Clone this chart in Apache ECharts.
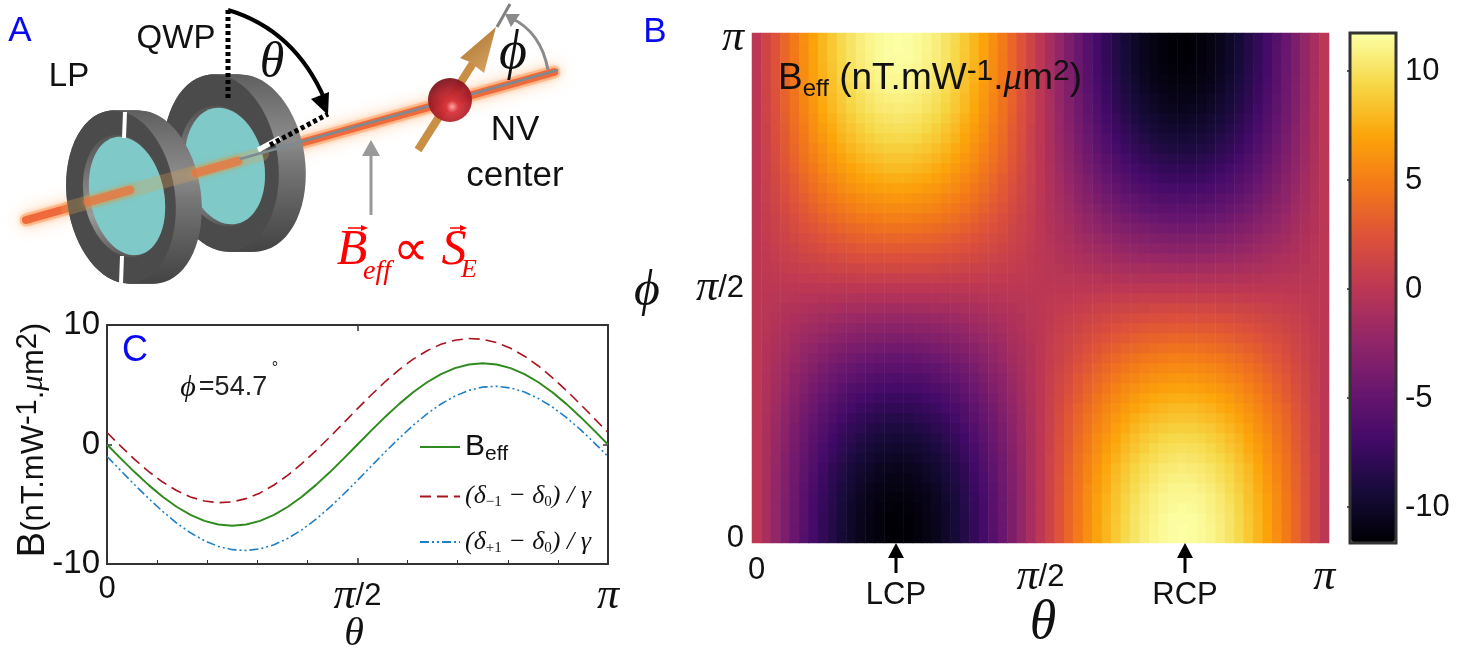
<!DOCTYPE html>
<html><head><meta charset="utf-8">
<style>html,body{margin:0;padding:0;background:#fff}#c{width:1459px;height:653px}</style>
<script src="https://cdn.jsdelivr.net/npm/echarts@6/dist/echarts.min.js"></script>
</head><body><div id="c"></div>
<script>
// ---------- Panel C data (theta in degrees)
const thetaDeg=[0,5,10,15,20,25,30,35,40,45,50,55,60,65,70,75,80,85,90,95,100,105,110,115,120,125,130,135,140,145,150,155,160,165,170,175,180];
const bEff=[0,-1.18,-2.33,-3.4,-4.37,-5.21,-5.89,-6.39,-6.7,-6.8,-6.7,-6.39,-5.89,-5.21,-4.37,-3.4,-2.33,-1.18,0,1.18,2.33,3.4,4.37,5.21,5.89,6.39,6.7,6.8,6.7,6.39,5.89,5.21,4.37,3.4,2.33,1.18,0];
const deltaMinus=[1,-0.16,-1.27,-2.27,-3.14,-3.85,-4.39,-4.73,-4.87,-4.8,-4.53,-4.05,-3.39,-2.57,-1.6,-0.53,0.61,1.8,3,4.16,5.27,6.27,7.14,7.85,8.39,8.73,8.87,8.8,8.53,8.05,7.39,6.57,5.6,4.53,3.39,2.2,1];
const deltaPlus=[-1,-2.2,-3.39,-4.53,-5.6,-6.57,-7.39,-8.05,-8.53,-8.8,-8.87,-8.73,-8.39,-7.85,-7.14,-6.27,-5.27,-4.16,-3,-1.8,-0.61,0.53,1.6,2.57,3.39,4.05,4.53,4.8,4.87,4.73,4.39,3.85,3.14,2.27,1.27,0.16,-1];
// ---------- Panel B data: rows from phi=0 (bottom) to phi=pi (top), columns theta 0..pi
const thetaCells=[0,3,6,9,12,15,18,21,24,27,30,33,36,39,42,45,48,51,54,57,60,63,66,69,72,75,78,81,84,87,90,93,96,99,102,105,108,111,114,117,120,123,126,129,132,135,138,141,144,147,150,153,156,159,162,165,168,171,174,177,180];
const phiCells=[0,3.6,7.2,10.8,14.4,18,21.6,25.2,28.8,32.4,36,39.6,43.2,46.8,50.4,54,57.6,61.2,64.8,68.4,72,75.6,79.2,82.8,86.4,90,93.6,97.2,100.8,104.4,108,111.6,115.2,118.8,122.4,126,129.6,133.2,136.8,140.4,144,147.6,151.2,154.8,158.4,162,165.6,169.2,172.8,176.4,180];
const beffRows=[
[0,-1.2,-2.4,-3.6,-4.8,-5.9,-6.9,-7.8,-8.7,-9.5,-10.1,-10.7,-11.1,-11.4,-11.6,-11.7,-11.6,-11.4,-11.1,-10.7,-10.1,-9.5,-8.7,-7.8,-6.9,-5.9,-4.8,-3.6,-2.4,-1.2,0,1.2,2.4,3.6,4.8,5.9,6.9,7.8,8.7,9.5,10.1,10.7,11.1,11.4,11.6,11.7,11.6,11.4,11.1,10.7,10.1,9.5,8.7,7.8,6.9,5.9,4.8,3.6,2.4,1.2,0],
[0,-1.2,-2.4,-3.6,-4.8,-5.8,-6.9,-7.8,-8.7,-9.4,-10.1,-10.7,-11.1,-11.4,-11.6,-11.7,-11.6,-11.4,-11.1,-10.7,-10.1,-9.4,-8.7,-7.8,-6.9,-5.8,-4.8,-3.6,-2.4,-1.2,0,1.2,2.4,3.6,4.8,5.8,6.9,7.8,8.7,9.4,10.1,10.7,11.1,11.4,11.6,11.7,11.6,11.4,11.1,10.7,10.1,9.4,8.7,7.8,6.9,5.8,4.8,3.6,2.4,1.2,0],
[0,-1.2,-2.4,-3.6,-4.7,-5.8,-6.8,-7.8,-8.6,-9.4,-10.1,-10.6,-11,-11.4,-11.6,-11.6,-11.6,-11.4,-11,-10.6,-10.1,-9.4,-8.6,-7.8,-6.8,-5.8,-4.7,-3.6,-2.4,-1.2,0,1.2,2.4,3.6,4.7,5.8,6.8,7.8,8.6,9.4,10.1,10.6,11,11.4,11.6,11.6,11.6,11.4,11,10.6,10.1,9.4,8.6,7.8,6.8,5.8,4.7,3.6,2.4,1.2,0],
[0,-1.2,-2.4,-3.6,-4.7,-5.7,-6.8,-7.7,-8.5,-9.3,-10,-10.5,-10.9,-11.2,-11.4,-11.5,-11.4,-11.2,-10.9,-10.5,-10,-9.3,-8.5,-7.7,-6.8,-5.7,-4.7,-3.6,-2.4,-1.2,0,1.2,2.4,3.6,4.7,5.7,6.8,7.7,8.5,9.3,10,10.5,10.9,11.2,11.4,11.5,11.4,11.2,10.9,10.5,10,9.3,8.5,7.7,6.8,5.7,4.7,3.6,2.4,1.2,0],
[0,-1.2,-2.4,-3.5,-4.6,-5.7,-6.7,-7.6,-8.4,-9.2,-9.8,-10.4,-10.8,-11.1,-11.3,-11.3,-11.3,-11.1,-10.8,-10.4,-9.8,-9.2,-8.4,-7.6,-6.7,-5.7,-4.6,-3.5,-2.4,-1.2,0,1.2,2.4,3.5,4.6,5.7,6.7,7.6,8.4,9.2,9.8,10.4,10.8,11.1,11.3,11.3,11.3,11.1,10.8,10.4,9.8,9.2,8.4,7.6,6.7,5.7,4.6,3.5,2.4,1.2,0],
[0,-1.2,-2.3,-3.4,-4.5,-5.6,-6.5,-7.4,-8.3,-9,-9.6,-10.2,-10.6,-10.9,-11.1,-11.1,-11.1,-10.9,-10.6,-10.2,-9.6,-9,-8.3,-7.4,-6.5,-5.6,-4.5,-3.4,-2.3,-1.2,0,1.2,2.3,3.4,4.5,5.6,6.5,7.4,8.3,9,9.6,10.2,10.6,10.9,11.1,11.1,11.1,10.9,10.6,10.2,9.6,9,8.3,7.4,6.5,5.6,4.5,3.4,2.3,1.2,0],
[0,-1.1,-2.3,-3.4,-4.4,-5.4,-6.4,-7.3,-8.1,-8.8,-9.4,-9.9,-10.3,-10.6,-10.8,-10.9,-10.8,-10.6,-10.3,-9.9,-9.4,-8.8,-8.1,-7.3,-6.4,-5.4,-4.4,-3.4,-2.3,-1.1,0,1.1,2.3,3.4,4.4,5.4,6.4,7.3,8.1,8.8,9.4,9.9,10.3,10.6,10.8,10.9,10.8,10.6,10.3,9.9,9.4,8.8,8.1,7.3,6.4,5.4,4.4,3.4,2.3,1.1,0],
[0,-1.1,-2.2,-3.3,-4.3,-5.3,-6.2,-7.1,-7.9,-8.6,-9.2,-9.7,-10.1,-10.4,-10.5,-10.6,-10.5,-10.4,-10.1,-9.7,-9.2,-8.6,-7.9,-7.1,-6.2,-5.3,-4.3,-3.3,-2.2,-1.1,0,1.1,2.2,3.3,4.3,5.3,6.2,7.1,7.9,8.6,9.2,9.7,10.1,10.4,10.5,10.6,10.5,10.4,10.1,9.7,9.2,8.6,7.9,7.1,6.2,5.3,4.3,3.3,2.2,1.1,0],
[0,-1.1,-2.1,-3.2,-4.2,-5.1,-6,-6.9,-7.6,-8.3,-8.9,-9.4,-9.7,-10,-10.2,-10.3,-10.2,-10,-9.7,-9.4,-8.9,-8.3,-7.6,-6.9,-6,-5.1,-4.2,-3.2,-2.1,-1.1,0,1.1,2.1,3.2,4.2,5.1,6,6.9,7.6,8.3,8.9,9.4,9.7,10,10.2,10.3,10.2,10,9.7,9.4,8.9,8.3,7.6,6.9,6,5.1,4.2,3.2,2.1,1.1,0],
[0,-1,-2.1,-3,-4,-4.9,-5.8,-6.6,-7.3,-8,-8.5,-9,-9.4,-9.7,-9.8,-9.9,-9.8,-9.7,-9.4,-9,-8.5,-8,-7.3,-6.6,-5.8,-4.9,-4,-3,-2.1,-1,0,1,2.1,3,4,4.9,5.8,6.6,7.3,8,8.5,9,9.4,9.7,9.8,9.9,9.8,9.7,9.4,9,8.5,8,7.3,6.6,5.8,4.9,4,3,2.1,1,0],
[0,-1,-2,-2.9,-3.9,-4.7,-5.6,-6.3,-7,-7.7,-8.2,-8.7,-9,-9.3,-9.4,-9.5,-9.4,-9.3,-9,-8.7,-8.2,-7.7,-7,-6.3,-5.6,-4.7,-3.9,-2.9,-2,-1,0,1,2,2.9,3.9,4.7,5.6,6.3,7,7.7,8.2,8.7,9,9.3,9.4,9.5,9.4,9.3,9,8.7,8.2,7.7,7,6.3,5.6,4.7,3.9,2.9,2,1,0],
[0,-.9,-1.9,-2.8,-3.7,-4.5,-5.3,-6,-6.7,-7.3,-7.8,-8.2,-8.6,-8.8,-9,-9,-9,-8.8,-8.6,-8.2,-7.8,-7.3,-6.7,-6,-5.3,-4.5,-3.7,-2.8,-1.9,-.9,0,.9,1.9,2.8,3.7,4.5,5.3,6,6.7,7.3,7.8,8.2,8.6,8.8,9,9,9,8.8,8.6,8.2,7.8,7.3,6.7,6,5.3,4.5,3.7,2.8,1.9,.9,0],
[0,-.9,-1.8,-2.6,-3.5,-4.3,-5,-5.7,-6.3,-6.9,-7.4,-7.8,-8.1,-8.3,-8.5,-8.5,-8.5,-8.3,-8.1,-7.8,-7.4,-6.9,-6.3,-5.7,-5,-4.3,-3.5,-2.6,-1.8,-.9,0,.9,1.8,2.6,3.5,4.3,5,5.7,6.3,6.9,7.4,7.8,8.1,8.3,8.5,8.5,8.5,8.3,8.1,7.8,7.4,6.9,6.3,5.7,5,4.3,3.5,2.6,1.8,.9,0],
[0,-.8,-1.7,-2.5,-3.3,-4,-4.7,-5.4,-6,-6.5,-6.9,-7.3,-7.6,-7.8,-8,-8,-8,-7.8,-7.6,-7.3,-6.9,-6.5,-6,-5.4,-4.7,-4,-3.3,-2.5,-1.7,-.8,0,.8,1.7,2.5,3.3,4,4.7,5.4,6,6.5,6.9,7.3,7.6,7.8,8,8,8,7.8,7.6,7.3,6.9,6.5,6,5.4,4.7,4,3.3,2.5,1.7,.8,0],
[0,-.8,-1.5,-2.3,-3,-3.7,-4.4,-5,-5.5,-6,-6.5,-6.8,-7.1,-7.3,-7.4,-7.5,-7.4,-7.3,-7.1,-6.8,-6.5,-6,-5.5,-5,-4.4,-3.7,-3,-2.3,-1.5,-.8,0,.8,1.5,2.3,3,3.7,4.4,5,5.5,6,6.5,6.8,7.1,7.3,7.4,7.5,7.4,7.3,7.1,6.8,6.5,6,5.5,5,4.4,3.7,3,2.3,1.5,.8,0],
[0,-.7,-1.4,-2.1,-2.8,-3.4,-4,-4.6,-5.1,-5.6,-6,-6.3,-6.5,-6.7,-6.8,-6.9,-6.8,-6.7,-6.5,-6.3,-6,-5.6,-5.1,-4.6,-4,-3.4,-2.8,-2.1,-1.4,-.7,0,.7,1.4,2.1,2.8,3.4,4,4.6,5.1,5.6,6,6.3,6.5,6.7,6.8,6.9,6.8,6.7,6.5,6.3,6,5.6,5.1,4.6,4,3.4,2.8,2.1,1.4,.7,0],
[0,-.7,-1.3,-1.9,-2.6,-3.1,-3.7,-4.2,-4.7,-5.1,-5.4,-5.7,-6,-6.1,-6.2,-6.3,-6.2,-6.1,-6,-5.7,-5.4,-5.1,-4.7,-4.2,-3.7,-3.1,-2.6,-1.9,-1.3,-.7,0,.7,1.3,1.9,2.6,3.1,3.7,4.2,4.7,5.1,5.4,5.7,6,6.1,6.2,6.3,6.2,6.1,6,5.7,5.4,5.1,4.7,4.2,3.7,3.1,2.6,1.9,1.3,.7,0],
[0,-.6,-1.2,-1.7,-2.3,-2.8,-3.3,-3.8,-4.2,-4.6,-4.9,-5.2,-5.4,-5.5,-5.6,-5.6,-5.6,-5.5,-5.4,-5.2,-4.9,-4.6,-4.2,-3.8,-3.3,-2.8,-2.3,-1.7,-1.2,-.6,0,.6,1.2,1.7,2.3,2.8,3.3,3.8,4.2,4.6,4.9,5.2,5.4,5.5,5.6,5.6,5.6,5.5,5.4,5.2,4.9,4.6,4.2,3.8,3.3,2.8,2.3,1.7,1.2,.6,0],
[0,-.5,-1,-1.5,-2,-2.5,-2.9,-3.3,-3.7,-4,-4.3,-4.6,-4.7,-4.9,-5,-5,-5,-4.9,-4.7,-4.6,-4.3,-4,-3.7,-3.3,-2.9,-2.5,-2,-1.5,-1,-.5,0,.5,1,1.5,2,2.5,2.9,3.3,3.7,4,4.3,4.6,4.7,4.9,5,5,5,4.9,4.7,4.6,4.3,4,3.7,3.3,2.9,2.5,2,1.5,1,.5,0],
[0,-.5,-.9,-1.3,-1.8,-2.2,-2.5,-2.9,-3.2,-3.5,-3.7,-3.9,-4.1,-4.2,-4.3,-4.3,-4.3,-4.2,-4.1,-3.9,-3.7,-3.5,-3.2,-2.9,-2.5,-2.2,-1.8,-1.3,-.9,-.5,0,.5,.9,1.3,1.8,2.2,2.5,2.9,3.2,3.5,3.7,3.9,4.1,4.2,4.3,4.3,4.3,4.2,4.1,3.9,3.7,3.5,3.2,2.9,2.5,2.2,1.8,1.3,.9,.5,0],
[0,-.4,-.8,-1.1,-1.5,-1.8,-2.1,-2.4,-2.7,-2.9,-3.1,-3.3,-3.4,-3.5,-3.6,-3.6,-3.6,-3.5,-3.4,-3.3,-3.1,-2.9,-2.7,-2.4,-2.1,-1.8,-1.5,-1.1,-.8,-.4,0,.4,.8,1.1,1.5,1.8,2.1,2.4,2.7,2.9,3.1,3.3,3.4,3.5,3.6,3.6,3.6,3.5,3.4,3.3,3.1,2.9,2.7,2.4,2.1,1.8,1.5,1.1,.8,.4,0],
[0,-.3,-.6,-.9,-1.2,-1.5,-1.7,-1.9,-2.2,-2.4,-2.5,-2.7,-2.8,-2.8,-2.9,-2.9,-2.9,-2.8,-2.8,-2.7,-2.5,-2.4,-2.2,-1.9,-1.7,-1.5,-1.2,-.9,-.6,-.3,0,.3,.6,.9,1.2,1.5,1.7,1.9,2.2,2.4,2.5,2.7,2.8,2.8,2.9,2.9,2.9,2.8,2.8,2.7,2.5,2.4,2.2,1.9,1.7,1.5,1.2,.9,.6,.3,0],
[0,-.2,-.5,-.7,-.9,-1.1,-1.3,-1.5,-1.6,-1.8,-1.9,-2,-2.1,-2.1,-2.2,-2.2,-2.2,-2.1,-2.1,-2,-1.9,-1.8,-1.6,-1.5,-1.3,-1.1,-.9,-.7,-.5,-.2,0,.2,.5,.7,.9,1.1,1.3,1.5,1.6,1.8,1.9,2,2.1,2.1,2.2,2.2,2.2,2.1,2.1,2,1.9,1.8,1.6,1.5,1.3,1.1,.9,.7,.5,.2,0],
[0,-.2,-.3,-.5,-.6,-.7,-.9,-1,-1.1,-1.2,-1.3,-1.3,-1.4,-1.4,-1.5,-1.5,-1.5,-1.4,-1.4,-1.3,-1.3,-1.2,-1.1,-1,-.9,-.7,-.6,-.5,-.3,-.2,0,.2,.3,.5,.6,.7,.9,1,1.1,1.2,1.3,1.3,1.4,1.4,1.5,1.5,1.5,1.4,1.4,1.3,1.3,1.2,1.1,1,.9,.7,.6,.5,.3,.2,0],
[0,-.1,-.2,-.2,-.3,-.4,-.4,-.5,-.5,-.6,-.6,-.7,-.7,-.7,-.7,-.7,-.7,-.7,-.7,-.7,-.6,-.6,-.5,-.5,-.4,-.4,-.3,-.2,-.2,-.1,0,.1,.2,.2,.3,.4,.4,.5,.5,.6,.6,.7,.7,.7,.7,.7,.7,.7,.7,.7,.6,.6,.5,.5,.4,.4,.3,.2,.2,.1,0],
[0,0,0,0,0,0,0,0,0,0,0,0,0,0,0,0,0,0,0,0,0,0,0,0,0,0,0,0,0,0,0,0,0,0,0,0,0,0,0,0,0,0,0,0,0,0,0,0,0,0,0,0,0,0,0,0,0,0,0,0,0],
[0,.1,.2,.2,.3,.4,.4,.5,.5,.6,.6,.7,.7,.7,.7,.7,.7,.7,.7,.7,.6,.6,.5,.5,.4,.4,.3,.2,.2,.1,0,-.1,-.2,-.2,-.3,-.4,-.4,-.5,-.5,-.6,-.6,-.7,-.7,-.7,-.7,-.7,-.7,-.7,-.7,-.7,-.6,-.6,-.5,-.5,-.4,-.4,-.3,-.2,-.2,-.1,0],
[0,.2,.3,.5,.6,.7,.9,1,1.1,1.2,1.3,1.3,1.4,1.4,1.5,1.5,1.5,1.4,1.4,1.3,1.3,1.2,1.1,1,.9,.7,.6,.5,.3,.2,0,-.2,-.3,-.5,-.6,-.7,-.9,-1,-1.1,-1.2,-1.3,-1.3,-1.4,-1.4,-1.5,-1.5,-1.5,-1.4,-1.4,-1.3,-1.3,-1.2,-1.1,-1,-.9,-.7,-.6,-.5,-.3,-.2,0],
[0,.2,.5,.7,.9,1.1,1.3,1.5,1.6,1.8,1.9,2,2.1,2.1,2.2,2.2,2.2,2.1,2.1,2,1.9,1.8,1.6,1.5,1.3,1.1,.9,.7,.5,.2,0,-.2,-.5,-.7,-.9,-1.1,-1.3,-1.5,-1.6,-1.8,-1.9,-2,-2.1,-2.1,-2.2,-2.2,-2.2,-2.1,-2.1,-2,-1.9,-1.8,-1.6,-1.5,-1.3,-1.1,-.9,-.7,-.5,-.2,0],
[0,.3,.6,.9,1.2,1.5,1.7,1.9,2.2,2.4,2.5,2.7,2.8,2.8,2.9,2.9,2.9,2.8,2.8,2.7,2.5,2.4,2.2,1.9,1.7,1.5,1.2,.9,.6,.3,0,-.3,-.6,-.9,-1.2,-1.5,-1.7,-1.9,-2.2,-2.4,-2.5,-2.7,-2.8,-2.8,-2.9,-2.9,-2.9,-2.8,-2.8,-2.7,-2.5,-2.4,-2.2,-1.9,-1.7,-1.5,-1.2,-.9,-.6,-.3,0],
[0,.4,.8,1.1,1.5,1.8,2.1,2.4,2.7,2.9,3.1,3.3,3.4,3.5,3.6,3.6,3.6,3.5,3.4,3.3,3.1,2.9,2.7,2.4,2.1,1.8,1.5,1.1,.8,.4,0,-.4,-.8,-1.1,-1.5,-1.8,-2.1,-2.4,-2.7,-2.9,-3.1,-3.3,-3.4,-3.5,-3.6,-3.6,-3.6,-3.5,-3.4,-3.3,-3.1,-2.9,-2.7,-2.4,-2.1,-1.8,-1.5,-1.1,-.8,-.4,0],
[0,.5,.9,1.3,1.8,2.2,2.5,2.9,3.2,3.5,3.7,3.9,4.1,4.2,4.3,4.3,4.3,4.2,4.1,3.9,3.7,3.5,3.2,2.9,2.5,2.2,1.8,1.3,.9,.5,0,-.5,-.9,-1.3,-1.8,-2.2,-2.5,-2.9,-3.2,-3.5,-3.7,-3.9,-4.1,-4.2,-4.3,-4.3,-4.3,-4.2,-4.1,-3.9,-3.7,-3.5,-3.2,-2.9,-2.5,-2.2,-1.8,-1.3,-.9,-.5,0],
[0,.5,1,1.5,2,2.5,2.9,3.3,3.7,4,4.3,4.6,4.7,4.9,5,5,5,4.9,4.7,4.6,4.3,4,3.7,3.3,2.9,2.5,2,1.5,1,.5,0,-.5,-1,-1.5,-2,-2.5,-2.9,-3.3,-3.7,-4,-4.3,-4.6,-4.7,-4.9,-5,-5,-5,-4.9,-4.7,-4.6,-4.3,-4,-3.7,-3.3,-2.9,-2.5,-2,-1.5,-1,-.5,0],
[0,.6,1.2,1.7,2.3,2.8,3.3,3.8,4.2,4.6,4.9,5.2,5.4,5.5,5.6,5.6,5.6,5.5,5.4,5.2,4.9,4.6,4.2,3.8,3.3,2.8,2.3,1.7,1.2,.6,0,-.6,-1.2,-1.7,-2.3,-2.8,-3.3,-3.8,-4.2,-4.6,-4.9,-5.2,-5.4,-5.5,-5.6,-5.6,-5.6,-5.5,-5.4,-5.2,-4.9,-4.6,-4.2,-3.8,-3.3,-2.8,-2.3,-1.7,-1.2,-.6,0],
[0,.7,1.3,1.9,2.6,3.1,3.7,4.2,4.7,5.1,5.4,5.7,6,6.1,6.2,6.3,6.2,6.1,6,5.7,5.4,5.1,4.7,4.2,3.7,3.1,2.6,1.9,1.3,.7,0,-.7,-1.3,-1.9,-2.6,-3.1,-3.7,-4.2,-4.7,-5.1,-5.4,-5.7,-6,-6.1,-6.2,-6.3,-6.2,-6.1,-6,-5.7,-5.4,-5.1,-4.7,-4.2,-3.7,-3.1,-2.6,-1.9,-1.3,-.7,0],
[0,.7,1.4,2.1,2.8,3.4,4,4.6,5.1,5.6,6,6.3,6.5,6.7,6.8,6.9,6.8,6.7,6.5,6.3,6,5.6,5.1,4.6,4,3.4,2.8,2.1,1.4,.7,0,-.7,-1.4,-2.1,-2.8,-3.4,-4,-4.6,-5.1,-5.6,-6,-6.3,-6.5,-6.7,-6.8,-6.9,-6.8,-6.7,-6.5,-6.3,-6,-5.6,-5.1,-4.6,-4,-3.4,-2.8,-2.1,-1.4,-.7,0],
[0,.8,1.5,2.3,3,3.7,4.4,5,5.5,6,6.5,6.8,7.1,7.3,7.4,7.5,7.4,7.3,7.1,6.8,6.5,6,5.5,5,4.4,3.7,3,2.3,1.5,.8,0,-.8,-1.5,-2.3,-3,-3.7,-4.4,-5,-5.5,-6,-6.5,-6.8,-7.1,-7.3,-7.4,-7.5,-7.4,-7.3,-7.1,-6.8,-6.5,-6,-5.5,-5,-4.4,-3.7,-3,-2.3,-1.5,-.8,0],
[0,.8,1.7,2.5,3.3,4,4.7,5.4,6,6.5,6.9,7.3,7.6,7.8,8,8,8,7.8,7.6,7.3,6.9,6.5,6,5.4,4.7,4,3.3,2.5,1.7,.8,0,-.8,-1.7,-2.5,-3.3,-4,-4.7,-5.4,-6,-6.5,-6.9,-7.3,-7.6,-7.8,-8,-8,-8,-7.8,-7.6,-7.3,-6.9,-6.5,-6,-5.4,-4.7,-4,-3.3,-2.5,-1.7,-.8,0],
[0,.9,1.8,2.6,3.5,4.3,5,5.7,6.3,6.9,7.4,7.8,8.1,8.3,8.5,8.5,8.5,8.3,8.1,7.8,7.4,6.9,6.3,5.7,5,4.3,3.5,2.6,1.8,.9,0,-.9,-1.8,-2.6,-3.5,-4.3,-5,-5.7,-6.3,-6.9,-7.4,-7.8,-8.1,-8.3,-8.5,-8.5,-8.5,-8.3,-8.1,-7.8,-7.4,-6.9,-6.3,-5.7,-5,-4.3,-3.5,-2.6,-1.8,-.9,0],
[0,.9,1.9,2.8,3.7,4.5,5.3,6,6.7,7.3,7.8,8.2,8.6,8.8,9,9,9,8.8,8.6,8.2,7.8,7.3,6.7,6,5.3,4.5,3.7,2.8,1.9,.9,0,-.9,-1.9,-2.8,-3.7,-4.5,-5.3,-6,-6.7,-7.3,-7.8,-8.2,-8.6,-8.8,-9,-9,-9,-8.8,-8.6,-8.2,-7.8,-7.3,-6.7,-6,-5.3,-4.5,-3.7,-2.8,-1.9,-.9,0],
[0,1,2,2.9,3.9,4.7,5.6,6.3,7,7.7,8.2,8.7,9,9.3,9.4,9.5,9.4,9.3,9,8.7,8.2,7.7,7,6.3,5.6,4.7,3.9,2.9,2,1,0,-1,-2,-2.9,-3.9,-4.7,-5.6,-6.3,-7,-7.7,-8.2,-8.7,-9,-9.3,-9.4,-9.5,-9.4,-9.3,-9,-8.7,-8.2,-7.7,-7,-6.3,-5.6,-4.7,-3.9,-2.9,-2,-1,0],
[0,1,2.1,3,4,4.9,5.8,6.6,7.3,8,8.5,9,9.4,9.7,9.8,9.9,9.8,9.7,9.4,9,8.5,8,7.3,6.6,5.8,4.9,4,3,2.1,1,0,-1,-2.1,-3,-4,-4.9,-5.8,-6.6,-7.3,-8,-8.5,-9,-9.4,-9.7,-9.8,-9.9,-9.8,-9.7,-9.4,-9,-8.5,-8,-7.3,-6.6,-5.8,-4.9,-4,-3,-2.1,-1,0],
[0,1.1,2.1,3.2,4.2,5.1,6,6.9,7.6,8.3,8.9,9.4,9.7,10,10.2,10.3,10.2,10,9.7,9.4,8.9,8.3,7.6,6.9,6,5.1,4.2,3.2,2.1,1.1,0,-1.1,-2.1,-3.2,-4.2,-5.1,-6,-6.9,-7.6,-8.3,-8.9,-9.4,-9.7,-10,-10.2,-10.3,-10.2,-10,-9.7,-9.4,-8.9,-8.3,-7.6,-6.9,-6,-5.1,-4.2,-3.2,-2.1,-1.1,0],
[0,1.1,2.2,3.3,4.3,5.3,6.2,7.1,7.9,8.6,9.2,9.7,10.1,10.4,10.5,10.6,10.5,10.4,10.1,9.7,9.2,8.6,7.9,7.1,6.2,5.3,4.3,3.3,2.2,1.1,0,-1.1,-2.2,-3.3,-4.3,-5.3,-6.2,-7.1,-7.9,-8.6,-9.2,-9.7,-10.1,-10.4,-10.5,-10.6,-10.5,-10.4,-10.1,-9.7,-9.2,-8.6,-7.9,-7.1,-6.2,-5.3,-4.3,-3.3,-2.2,-1.1,0],
[0,1.1,2.3,3.4,4.4,5.4,6.4,7.3,8.1,8.8,9.4,9.9,10.3,10.6,10.8,10.9,10.8,10.6,10.3,9.9,9.4,8.8,8.1,7.3,6.4,5.4,4.4,3.4,2.3,1.1,0,-1.1,-2.3,-3.4,-4.4,-5.4,-6.4,-7.3,-8.1,-8.8,-9.4,-9.9,-10.3,-10.6,-10.8,-10.9,-10.8,-10.6,-10.3,-9.9,-9.4,-8.8,-8.1,-7.3,-6.4,-5.4,-4.4,-3.4,-2.3,-1.1,0],
[0,1.2,2.3,3.4,4.5,5.6,6.5,7.4,8.3,9,9.6,10.2,10.6,10.9,11.1,11.1,11.1,10.9,10.6,10.2,9.6,9,8.3,7.4,6.5,5.6,4.5,3.4,2.3,1.2,0,-1.2,-2.3,-3.4,-4.5,-5.6,-6.5,-7.4,-8.3,-9,-9.6,-10.2,-10.6,-10.9,-11.1,-11.1,-11.1,-10.9,-10.6,-10.2,-9.6,-9,-8.3,-7.4,-6.5,-5.6,-4.5,-3.4,-2.3,-1.2,0],
[0,1.2,2.4,3.5,4.6,5.7,6.7,7.6,8.4,9.2,9.8,10.4,10.8,11.1,11.3,11.3,11.3,11.1,10.8,10.4,9.8,9.2,8.4,7.6,6.7,5.7,4.6,3.5,2.4,1.2,0,-1.2,-2.4,-3.5,-4.6,-5.7,-6.7,-7.6,-8.4,-9.2,-9.8,-10.4,-10.8,-11.1,-11.3,-11.3,-11.3,-11.1,-10.8,-10.4,-9.8,-9.2,-8.4,-7.6,-6.7,-5.7,-4.6,-3.5,-2.4,-1.2,0],
[0,1.2,2.4,3.6,4.7,5.7,6.8,7.7,8.5,9.3,10,10.5,10.9,11.2,11.4,11.5,11.4,11.2,10.9,10.5,10,9.3,8.5,7.7,6.8,5.7,4.7,3.6,2.4,1.2,0,-1.2,-2.4,-3.6,-4.7,-5.7,-6.8,-7.7,-8.5,-9.3,-10,-10.5,-10.9,-11.2,-11.4,-11.5,-11.4,-11.2,-10.9,-10.5,-10,-9.3,-8.5,-7.7,-6.8,-5.7,-4.7,-3.6,-2.4,-1.2,0],
[0,1.2,2.4,3.6,4.7,5.8,6.8,7.8,8.6,9.4,10.1,10.6,11,11.4,11.6,11.6,11.6,11.4,11,10.6,10.1,9.4,8.6,7.8,6.8,5.8,4.7,3.6,2.4,1.2,0,-1.2,-2.4,-3.6,-4.7,-5.8,-6.8,-7.8,-8.6,-9.4,-10.1,-10.6,-11,-11.4,-11.6,-11.6,-11.6,-11.4,-11,-10.6,-10.1,-9.4,-8.6,-7.8,-6.8,-5.8,-4.7,-3.6,-2.4,-1.2,0],
[0,1.2,2.4,3.6,4.8,5.8,6.9,7.8,8.7,9.4,10.1,10.7,11.1,11.4,11.6,11.7,11.6,11.4,11.1,10.7,10.1,9.4,8.7,7.8,6.9,5.8,4.8,3.6,2.4,1.2,0,-1.2,-2.4,-3.6,-4.8,-5.8,-6.9,-7.8,-8.7,-9.4,-10.1,-10.7,-11.1,-11.4,-11.6,-11.7,-11.6,-11.4,-11.1,-10.7,-10.1,-9.4,-8.7,-7.8,-6.9,-5.8,-4.8,-3.6,-2.4,-1.2,0],
[0,1.2,2.4,3.6,4.8,5.9,6.9,7.8,8.7,9.5,10.1,10.7,11.1,11.4,11.6,11.7,11.6,11.4,11.1,10.7,10.1,9.5,8.7,7.8,6.9,5.9,4.8,3.6,2.4,1.2,0,-1.2,-2.4,-3.6,-4.8,-5.9,-6.9,-7.8,-8.7,-9.5,-10.1,-10.7,-11.1,-11.4,-11.6,-11.7,-11.6,-11.4,-11.1,-10.7,-10.1,-9.5,-8.7,-7.8,-6.9,-5.9,-4.8,-3.6,-2.4,-1.2,0]
];
const colorbarTicks=[-10,-5,0,5,10];
const infernoStops=['#000004','#160b39','#420a68','#6a176e','#932667','#bc3754','#dd513a','#f37819','#fca50a','#f6d746','#fcffa4'];

// ---------- helpers for text and the schematic (panel A)
const SANS='"Liberation Sans"', SERIF='"Liberation Serif"';
const T=(x,y,s,size,o={})=>({type:'text',x,y,z:o.z||10,rotation:o.rot||0,style:Object.assign({text:s,fontSize:size,fontFamily:SANS,fill:'#111',align:'center',verticalAlign:'middle'},o.style||{})});
const M=(x,y,s,size,color)=>T(x,y,s,size,{style:{fontFamily:SERIF,fontStyle:'italic',fill:color||'#111'}});
const L=(x1,y1,x2,y2,stroke,w,o={})=>({type:'line',z:o.z||5,shape:{x1,y1,x2,y2},style:Object.assign({stroke,lineWidth:w},o.style||{})});
const P=(pts,fill)=>({type:'polygon',z:6,shape:{points:pts},style:{fill}});
const E=(x,y,rx,ry,rot,fill)=>({type:'ellipse',x,y,rotation:rot,z:4,shape:{cx:0,cy:0,rx,ry},style:{fill}});
const sideFill={type:'linear',x:0,y:0,x2:0,y2:1,colorStops:[{offset:0,color:'#5e5e5e'},{offset:.42,color:'#8c8c8c'},{offset:.55,color:'#777'},{offset:1,color:'#454545'}]};
function disc(fx,fy,bx,rx,ry,lx,ly,lrx,lry){
  const out=[];
  for(let k=0;k<=14;k++){const t=k/14;out.push(E(bx+(fx-bx)*t,fy,rx,ry,.14,sideFill));}
  out.push(E(fx,fy,rx,ry,.14,'#4b4b4b'));
  out.push(E(lx-3,ly,lrx+3,lry+2,.2,{type:'linear',x:0,y:0,x2:0,y2:1,colorStops:[{offset:0,color:'#555'},{offset:.6,color:'#999'},{offset:1,color:'#555'}]}));
  out.push(E(lx,ly,lrx,lry,.2,'#7fc9c8'));
  return out;
}
const schematic=[
  L(26,220,554,72,'rgba(255,170,110,.55)',13,{z:3,style:{lineCap:'round',shadowBlur:16,shadowColor:'#ffb070'}}),
  L(26,220,554,72,'#f0693a',8,{z:3,style:{lineCap:'round',shadowBlur:6,shadowColor:'#ff9a60'}}),
  ...disc(221,163,248,57,89,225,166,39,59),
  ...disc(121,197,147,54,87,127,196,37,60),
  L(68,208,262,154,'#d9a24e',14,{style:{opacity:.3,lineCap:'round'}}),
  L(88,202,130,190,'#ef6f3c',9,{style:{opacity:.7,lineCap:'round',shadowBlur:6,shadowColor:'#c9a050'}}),
  L(196,173,238,161,'#ef6f3c',9,{style:{opacity:.7,lineCap:'round',shadowBlur:6,shadowColor:'#c9a050'}}),
  L(240,159,558,70,'#7d8a92',2.5),
  L(125,112,124,138,'#fff',4),L(122,256,121,283,'#fff',4),
  L(258,150,280,138,'#fff',5),
  L(228,10,228,100,'#000',5,{style:{lineDash:[4,3]}}),
  L(270,145,328,114,'#000',5,{style:{lineDash:[4,3]}}),
  {type:'bezierCurve',z:6,shape:{x1:228,y1:10,x2:325,y2:100,cpx1:295,cpy1:30},style:{stroke:'#000',lineWidth:4,fill:'none'}},
  P([[328,115],[311,99],[329,92]],'#000'),
  L(418,150,480,52,'#c98f45',8),
  P([[496,27],[460,58],[470,62],[484,73]],{type:'linear',x:0,y:0,x2:1,y2:1,colorStops:[{offset:0,color:'#a86f2c'},{offset:1,color:'#dba765'}]}),
  L(497,27,510,4,'#808080',3),
  {type:'circle',z:7,shape:{cx:450,cy:100,r:22},style:{opacity:.95,fill:{type:'radial',x:.55,y:.65,r:.62,colorStops:[{offset:0,color:'#ffa3a3'},{offset:.22,color:'#d9323a'},{offset:.7,color:'#a81e28'},{offset:1,color:'#80161f'}]}}},
  {type:'bezierCurve',z:6,shape:{x1:548,y1:70,x2:511,y2:18,cpx1:541,cpy1:32},style:{stroke:'#8a8a8a',lineWidth:3,fill:'none'}},
  P([[505,14],[520,14],[511,27]],'#8a8a8a'),
  L(371,215,371,152,'#999',3),
  P([[371,140],[362,156],[380,156]],'#999'),
  L(348,228,364,228,'#f00',1.5),P([[368,228],[361,225],[361,231]],'#f00'),
  L(450,228,463,228,'#f00',1.5),P([[467,228],[460,225],[460,231]],'#f00'),
  T(20,31,'A',35,{style:{fill:'#0a0aee'}}),
  T(176,39,'QWP',33),T(69,77,'LP',33),
  T(515,130,'NV',35),T(515,176,'center',35),
  M(272,64,'θ',50),M(513,54,'ϕ',54),
  M(352,251,'B',50,'#f00'),M(377,272,'eff',28,'#f00'),
  T(411,252,'∝',50,{style:{fill:'#f00',fontFamily:SERIF}}),
  M(454,251,'S',50,'#f00'),M(469,270,'E',26,'#f00'),
  // panel labels & annotations
  T(655,32,'B',35,{style:{fill:'#0a0aee'}}),
  T(135,351,'C',36,{style:{fill:'#0a0aee'}}),
  M(188,388,'ϕ',30),
  T(233,388,'=54.7',27,{style:{fill:'#222'}}),
  T(275,369,'°',16,{style:{fill:'#222'}}),
  T(778,79,'{b|B}{s|eff}{b| (nT.mW}{u|-1}{b|.}{i|μ}{b|m}{u|2}{b|)}',37,{style:{align:'left',rich:{b:{fontSize:37,fontFamily:SANS,fill:'#111'},s:{fontSize:24,fontFamily:SANS,fill:'#111',verticalAlign:'bottom'},u:{fontSize:30,fontFamily:SANS,fill:'#111',verticalAlign:'top',padding:[0,0,14,0]},i:{fontSize:37,fontFamily:SERIF,fontStyle:'italic',fill:'#111'}}}}),
  M(647,292,'ϕ',50),
  M(1043,624,'θ',54),
  M(354,634,'θ',40),
  L(896,573,896,555,'#000',3),P([[896,543],[888,558],[904,558]],'#000'),
  L(1185,573,1185,555,'#000',3),P([[1185,543],[1177,558],[1193,558]],'#000'),
  T(896,595,'LCP',31),T(1185,595,'RCP',31),
  T(34,440,'{b|B}{n|(nT.mW}{u|-1}{n|.}{i|μ}{n|m}{u|2}{n|)}',28,{rot:Math.PI/2,style:{rich:{b:{fontSize:38,fontFamily:SANS,fill:'#111'},n:{fontSize:31,fontFamily:SANS,fill:'#111'},u:{fontSize:29,fontFamily:SANS,fill:'#111',verticalAlign:'top',padding:[0,0,12,0]},i:{fontSize:31,fontFamily:SERIF,fontStyle:'italic',fill:'#111'}}}}),
  {type:'rect',z:11,shape:{x:1350,y:33,width:46,height:510},style:{fill:'none',stroke:'#333',lineWidth:3}}
];

// ---------- assemble
const heatData=[];
beffRows.forEach((row,j)=>row.forEach((v,i)=>heatData.push([i,j,v])));
const pair=a=>thetaDeg.map((t,i)=>[t,a[i]]);
const tickRich={s:{fontFamily:SANS,fontSize:31,color:'#111'},p:{fontFamily:SERIF,fontStyle:'italic',fontSize:44,color:'#111'}};
const piFmt=(v)=>{v=+v;return v===0?'{s|0}':(v===90?'{p|π}{s|/2}':'{p|π}');};
const legendNames={'Beff':'{n|B}{s|eff}','minus':'{m|(δ}{t|−1}{m| − δ}{t|0}{m|) / γ}','plus':'{m|(δ}{t|+1}{m| − δ}{t|0}{m|) / γ}'};
const axisFrame={onZero:false,lineStyle:{color:'#333',width:2}};
const opt={
 animation:false,
 backgroundColor:'#fff',
 grid:[
  {left:752,top:33,width:577,height:510},
  {left:107,top:325,width:501,height:239},
  {left:1351,top:34,width:44,height:508}
 ],
 xAxis:[
  {type:'category',gridIndex:0,data:thetaCells.map(String),axisLine:{show:false},axisTick:{show:false},splitLine:{show:false},
   axisLabel:{margin:12,interval:(i)=>i===0||i===30||i===60,formatter:piFmt,rich:tickRich,showMinLabel:true,showMaxLabel:true}},
  {type:'value',gridIndex:1,min:0,max:180,interval:90,position:'bottom',axisLine:axisFrame,splitLine:{show:false},
   axisTick:{inside:true,length:6,lineStyle:{color:'#333',width:1.5}},minorTick:{show:true,splitNumber:5,length:4,lineStyle:{color:'#333',width:1}},
   axisLabel:{margin:10,formatter:piFmt,rich:tickRich,hideOverlap:false}},
  {type:'value',gridIndex:1,min:0,max:180,interval:90,position:'top',axisLine:axisFrame,splitLine:{show:false},axisLabel:{show:false},
   axisTick:{inside:true,length:6,lineStyle:{color:'#333',width:1.5}}},
  {type:'value',gridIndex:2,min:0,max:1,show:false}
 ],
 yAxis:[
  {type:'category',gridIndex:0,data:phiCells.map(String),axisLine:{show:false},axisTick:{show:false},splitLine:{show:false},
   axisLabel:{margin:8,interval:(i)=>i===0||i===25||i===50,formatter:piFmt,rich:tickRich}},
  {type:'value',gridIndex:1,min:-10,max:10,interval:10,position:'left',axisLine:axisFrame,splitLine:{show:false},
   axisTick:{inside:true,length:5,lineStyle:{color:'#333',width:1.5}},axisLabel:{margin:7,fontFamily:SANS,fontSize:33,color:'#111'}},
  {type:'value',gridIndex:1,min:-10,max:10,interval:10,position:'right',axisLine:axisFrame,splitLine:{show:false},axisLabel:{show:false},
   axisTick:{inside:true,length:5,lineStyle:{color:'#333',width:1.5}}},
  {type:'value',gridIndex:2,min:-11.6,max:11.7,position:'right',z:10,axisLine:{show:false},splitLine:{show:false},
   axisTick:{inside:true,length:4,customValues:colorbarTicks,lineStyle:{color:'#222',width:1.5}},
   axisLabel:{customValues:colorbarTicks,margin:10,fontFamily:SANS,fontSize:31,color:'#111'}}
 ],
 visualMap:{type:'continuous',seriesIndex:0,min:-11.7,max:11.7,calculable:false,show:true,left:1351,top:34,itemWidth:44,itemHeight:508,padding:0,text:null,inRange:{color:infernoStops}},
 legend:{left:414,top:427,orient:'vertical',itemWidth:40,itemHeight:14,itemGap:19,selectedMode:false,data:['Beff','minus','plus'],
  itemStyle:{opacity:0},
  formatter:(n)=>legendNames[n],
  textStyle:{rich:{n:{fontFamily:SANS,fontSize:30,color:'#111'},s:{fontFamily:SANS,fontSize:21,color:'#111',verticalAlign:'bottom',padding:[14,0,0,0]},
   m:{fontFamily:SERIF,fontStyle:'italic',fontSize:26,color:'#111'},t:{fontFamily:SERIF,fontSize:15,color:'#111',verticalAlign:'bottom',padding:[12,0,0,0]}}}},
 series:[
  {type:'heatmap',xAxisIndex:0,yAxisIndex:0,data:heatData,silent:true,itemStyle:{borderWidth:0}},
  {name:'Beff',type:'line',xAxisIndex:1,yAxisIndex:1,data:pair(bEff),symbol:'none',lineStyle:{color:'#2f8a1f',width:2},itemStyle:{color:'#2f8a1f'}},
  {name:'minus',type:'line',xAxisIndex:1,yAxisIndex:1,data:pair(deltaMinus),symbol:'none',lineStyle:{color:'#a9141f',width:1.6,type:[11,6]},itemStyle:{color:'#a9141f'}},
  {name:'plus',type:'line',xAxisIndex:1,yAxisIndex:1,data:pair(deltaPlus),symbol:'none',lineStyle:{color:'#1f7fc4',width:1.6,type:[9,3,2,3,2,3]},itemStyle:{color:'#1f7fc4'}}
 ],
 graphic:{elements:schematic}
};
const chart=echarts.init(document.getElementById('c'),null,{renderer:'canvas'});
chart.setOption(opt);
</script></body></html>
